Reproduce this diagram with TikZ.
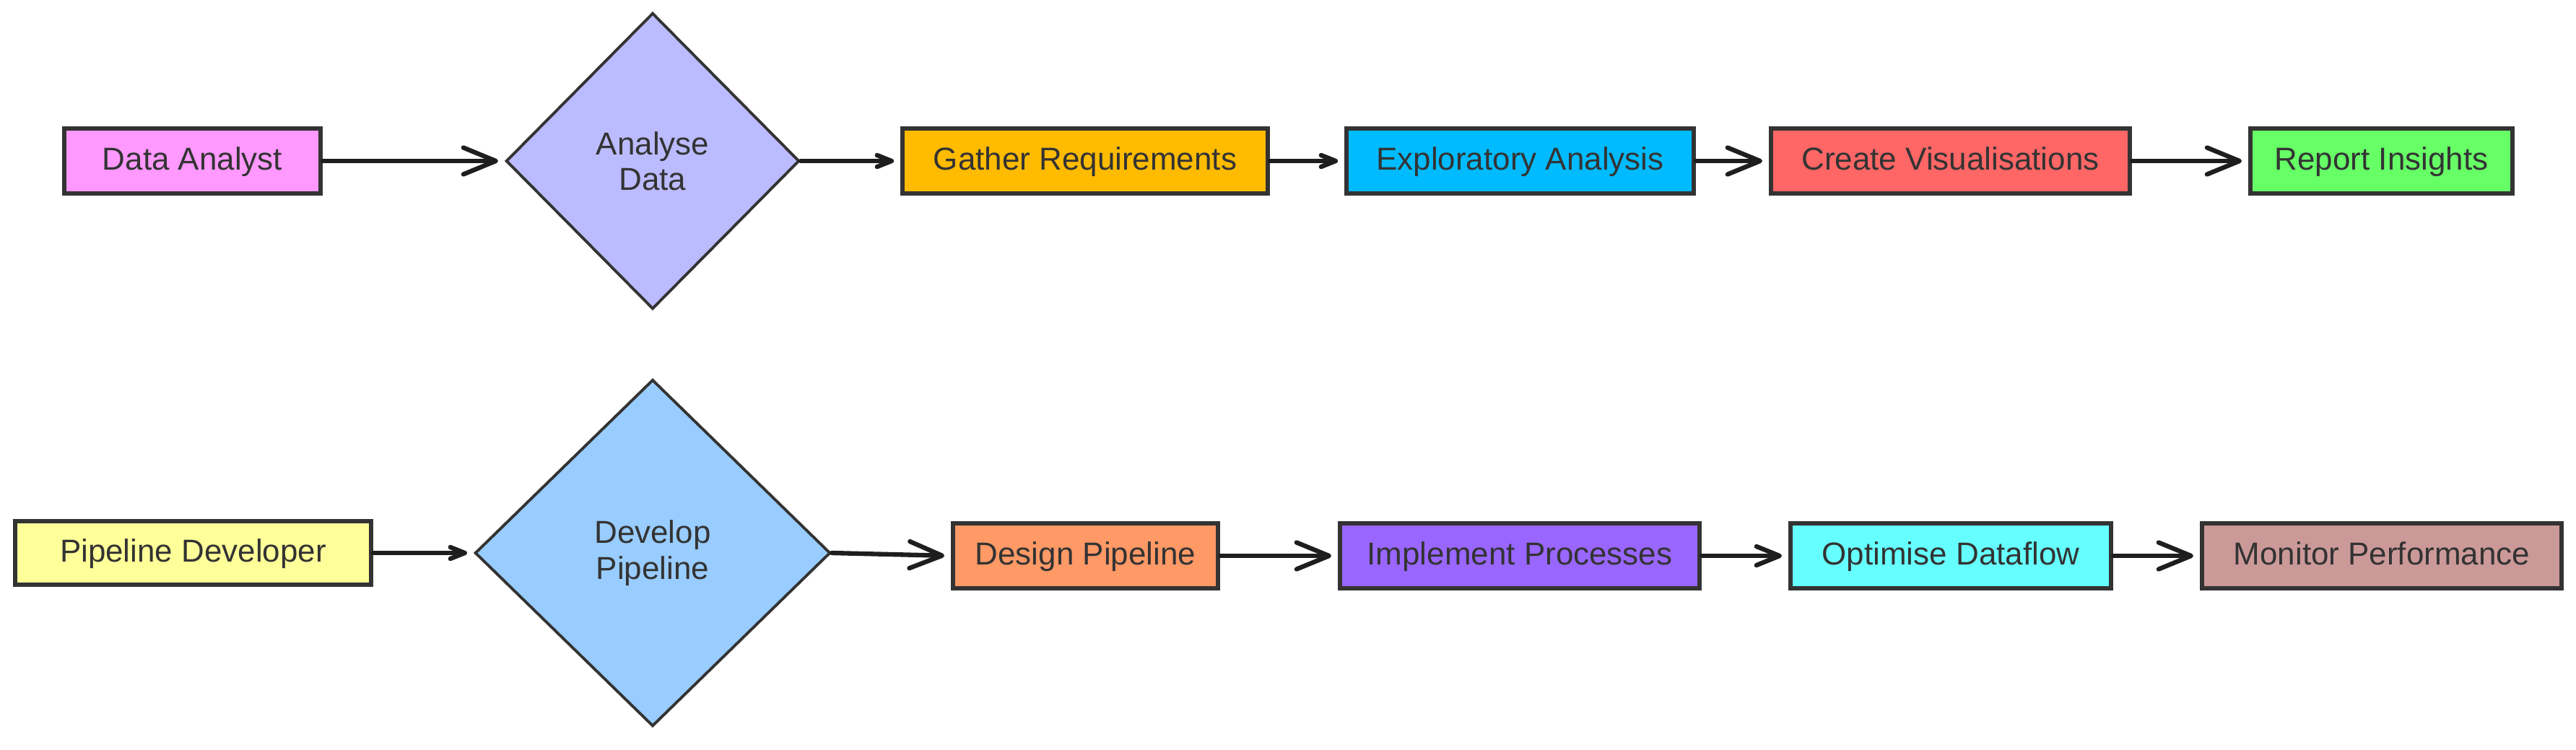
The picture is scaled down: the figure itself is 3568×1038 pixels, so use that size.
\documentclass[tikz,border=0pt]{standalone}
\usepackage{fontspec}
\setmainfont{Liberation Sans}
\usetikzlibrary{shapes.geometric,arrows.meta}
\definecolor{strokec}{HTML}{333333}
\definecolor{arrowc}{HTML}{1E1E1E}
\definecolor{cda}{HTML}{FF99FF}
\definecolor{cad}{HTML}{BBBBFF}
\definecolor{cgr}{HTML}{FFBB00}
\definecolor{cea}{HTML}{00BBFF}
\definecolor{ccv}{HTML}{FF6666}
\definecolor{cri}{HTML}{66FF66}
\definecolor{cpd}{HTML}{FFFF99}
\definecolor{cdpd}{HTML}{99CCFF}
\definecolor{cdp}{HTML}{FF9966}
\definecolor{cip}{HTML}{9966FF}
\definecolor{cod}{HTML}{66FFFF}
\definecolor{cmp}{HTML}{CC9999}
\begin{document}
\begin{tikzpicture}[x=0.01cm,y=-0.01cm,
  lbl/.style={text=strokec, font=\fontsize{12.5}{14}\selectfont},
  box/.style={lbl, draw=strokec, line width=1.6pt, rectangle, inner sep=0pt, minimum height=0.9cm, text height=0.72em, text depth=0pt},
  dia/.style={lbl, draw=strokec, line width=1.1pt, diamond, inner sep=0pt, align=center},
  arrbase/.style={draw=arrowc, line width=1.8pt, line cap=round, shorten >=0.09cm},
  arrL/.style={arrbase, -{Straight Barb[length=0.45cm, width=0.37cm, round]}},
  arrM/.style={arrbase, -{Straight Barb[length=0.32cm, width=0.26cm, round]}},
  arrS/.style={arrbase, -{Straight Barb[length=0.2cm, width=0.16cm, round]}}]
\useasboundingbox (0,0) rectangle (3568,1038);
% row 1
\node[box, fill=cda, minimum width=3.55cm] (da) at (266.5,223) {Data Analyst};
\node[dia, fill=cad, minimum width=4.06cm, minimum height=4.10cm] (ad) at (904,223) {Analyse\\Data};
\node[box, fill=cgr, minimum width=5.06cm] (gr) at (1503,223) {Gather Requirements};
\node[box, fill=cea, minimum width=4.81cm] (ea) at (2105.5,223) {Exploratory Analysis};
\node[box, fill=ccv, minimum width=4.97cm] (cv) at (2701.5,223) {Create Visualisations};
\node[box, fill=cri, minimum width=3.63cm] (ri) at (3298.5,223) {Report Insights};
% row 2
\node[box, fill=cpd, minimum width=4.93cm, minimum height=0.88cm] (pd) at (267.5,766) {Pipeline Developer};
\node[dia, fill=cdpd, minimum width=4.92cm, minimum height=4.80cm] (dpd) at (904,766) {Develop\\Pipeline};
\node[box, fill=cdp, minimum width=3.67cm] (dp) at (1503.5,770) {Design Pipeline};
\node[box, fill=cip, minimum width=4.98cm] (ip) at (2105,770) {Implement Processes};
\node[box, fill=cod, minimum width=4.44cm] (od) at (2702,770) {Optimise Dataflow};
\node[box, fill=cmp, minimum width=4.98cm] (mp) at (3299,770) {Monitor Performance};
% arrows row 1
\draw[arrL] (da.east) -- (ad.west);
\draw[arrS] (ad.east) -- (gr.west);
\draw[arrS] (gr.east) -- (ea.west);
\draw[arrL] (ea.east) -- (cv.west);
\draw[arrL] (cv.east) -- (ri.west);
% arrows row 2
\draw[arrS] (pd.east) -- (dpd.west);
\draw[arrL] (dpd.east) -- (dp.west);
\draw[arrL] (dp.east) -- (ip.west);
\draw[arrM] (ip.east) -- (od.west);
\draw[arrL] (od.east) -- (mp.west);
\end{tikzpicture}
\end{document}
